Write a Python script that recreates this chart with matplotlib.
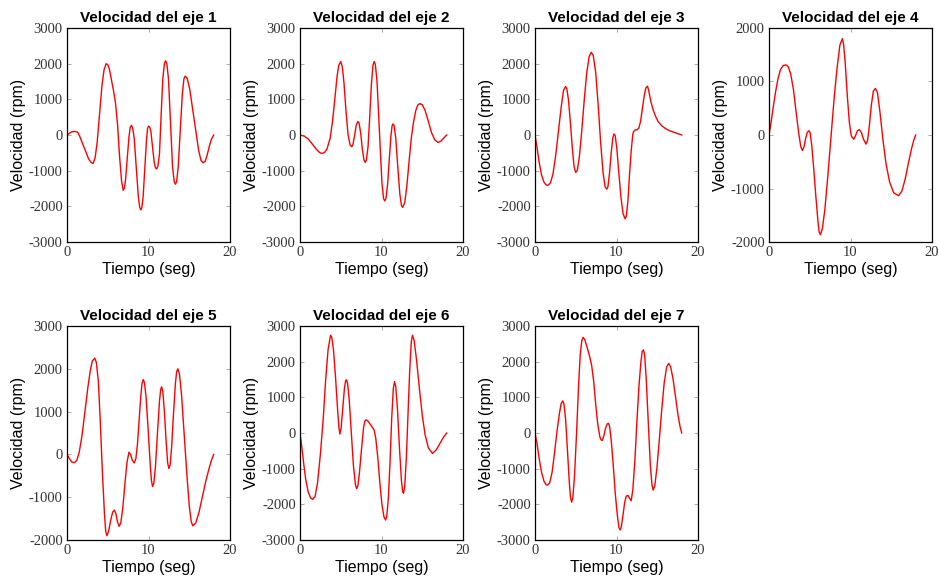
import matplotlib
matplotlib.use("Agg")
import matplotlib.pyplot as plt
import numpy as np

# velocidad de cada eje (t en seg, v en rpm)
t1 = [0, 0.3, 0.6, 1.0, 1.3, 1.55, 2.1, 2.65, 2.95, 3.2, 3.45, 3.7, 4.0, 4.3, 4.55, 4.8,
      5.0, 5.2, 5.45, 5.7, 5.95, 6.2, 6.45, 6.7, 6.9, 7.05, 7.2, 7.4, 7.6, 7.75, 7.9,
      8.05, 8.25, 8.5, 8.75, 8.92, 9.07, 9.2, 9.35, 9.55, 9.75, 9.88, 10.0,
      10.15, 10.3, 10.5, 10.7, 10.85, 11.0, 11.15, 11.35, 11.55, 11.75, 11.95, 12.1,
      12.25, 12.45, 12.7, 12.95, 13.15, 13.3, 13.45, 13.65, 13.9, 14.15, 14.35, 14.5,
      14.75, 15.05, 15.6, 16.15, 16.45, 16.7, 16.95, 17.2, 17.45, 17.7, 18]
v1 = [0, 50, 90, 100, 80, -31, -350, -669, -770, -800, -640, -210, 600, 1410, 1830, 2000,
      1970, 1850, 1550, 1250, 900, 300, -600, -1300, -1550, -1490, -1220, -640, -60, 210, 270,
      200, -90, -915, -1720, -2030, -2100, -2020, -1700, -920, -150, 180, 250,
      220, 90, -350, -760, -920, -950, -880, -520, 560, 1560, 2000, 2080,
      2000, 1580, 350, -900, -1300, -1380, -1310, -880, 135, 1150, 1580, 1650,
      1590, 1300, 435, -430, -720, -780, -740, -560, -330, -130, 0]

t2 = [0, 0.5, 1.0, 1.5, 2.0, 2.4, 2.7, 3.0, 3.3, 3.7, 4.0, 4.3, 4.55, 4.75, 5.0,
      5.2, 5.4, 5.65, 5.9, 6.15, 6.35, 6.5, 6.7, 6.9, 7.1, 7.25, 7.45, 7.65, 7.85, 8.0,
      8.15, 8.35, 8.55, 8.75, 8.95, 9.1, 9.25, 9.45, 9.75, 10.05, 10.25, 10.4,
      10.55, 10.75, 10.95, 11.15, 11.3, 11.4, 11.55, 11.75, 12.0, 12.25, 12.45, 12.6,
      12.85, 13.1, 13.4, 13.65, 13.9, 14.2, 14.45, 14.7, 15.0, 15.35, 15.75, 16.15, 16.55, 16.95,
      17.3, 17.65, 18]
v2 = [0, -30, -110, -250, -400, -490, -520, -490, -400, -90, 400, 1070, 1650, 1950, 2060,
      1900, 1450, 650, 0, -280, -330, -260, -20, 280, 380, 330, 50, -400, -700, -770,
      -700, -320, 480, 1380, 1950, 2060, 1970, 1500, 80, -1330, -1780, -1850,
      -1780, -1380, -700, -40, 260, 310, 260, -90, -900, -1650, -1980, -2030,
      -1900, -1450, -700, -100, 320, 680, 840, 880, 850, 690, 380, 60, -140, -210,
      -170, -80, 0]

t3 = [0, 0.25, 0.5, 0.8, 1.1, 1.35, 1.6, 1.9, 2.2, 2.55, 2.9, 3.2, 3.5, 3.75,
      3.9, 4.1, 4.35, 4.6, 4.8, 5.0, 5.2, 5.45, 5.75, 6.05, 6.35, 6.65, 6.9,
      7.15, 7.45, 7.75, 8.05, 8.35, 8.6, 8.8, 8.95, 9.15, 9.35, 9.55, 9.7,
      9.85, 10.05, 10.3, 10.55, 10.8, 11.05, 11.2, 11.4, 11.6, 11.8, 12.0, 12.1,
      12.3, 12.55, 12.75, 12.95, 13.15, 13.4, 13.6, 13.8, 13.95, 14.2, 14.5, 14.8,
      15.1, 15.5, 16.0, 16.5, 17.0, 17.5, 18]
v3 = [0, -350, -750, -1120, -1320, -1400, -1410, -1340, -1100, -560, 150, 760, 1250, 1360,
      1300, 1000, 330, -420, -900, -1050, -980, -600, 150, 1000, 1750, 2200, 2320,
      2230, 1750, 850, -200, -1050, -1450, -1520, -1450, -1050, -500, -80, 30,
      -30, -400, -1100, -1750, -2200, -2350, -2280, -1850, -1100, -450, 20, 100,
      140, 150, 200, 380, 700, 1100, 1320, 1370, 1250, 950, 700, 520,
      380, 270, 180, 120, 80, 40, 0]

t4 = [0, 0.25, 0.5, 0.8, 1.1, 1.4, 1.75, 2.07, 2.35, 2.65, 3.0, 3.35, 3.65, 3.9, 4.1,
      4.3, 4.5, 4.7, 4.9, 5.05, 5.25, 5.5, 5.75, 6.0, 6.15, 6.3,
      6.55, 6.85, 7.2, 7.6, 8.0, 8.35, 8.7, 9.0, 9.15, 9.35, 9.6, 9.85, 10.1, 10.4,
      10.6, 10.85, 11.1, 11.35, 11.6, 11.9, 12.1, 12.3, 12.55, 12.8, 13.05,
      13.3, 13.6, 13.95, 14.35, 14.8, 15.3, 15.9, 16.3, 16.7, 17.1, 17.5, 17.8, 18]
v4 = [0, 230, 500, 800, 1050, 1220, 1300, 1310, 1280, 1150, 850, 400, 30, -220, -290,
      -220, -60, 50, 80, 40, -200, -650, -1150, -1600, -1810, -1865,
      -1750, -1400, -800, -50, 700, 1250, 1680, 1800, 1700, 1350, 750, 250, -20, -80,
      -20, 80, 100, 40, -80, -170, -100, 150, 550, 820, 870,
      800, 450, -50, -530, -880, -1080, -1135, -1050, -830, -530, -250, -80, 0]

t5 = [0, 0.3, 0.6, 0.9, 1.2, 1.5, 1.85, 2.2, 2.55, 2.85, 3.1, 3.4,
      3.6, 3.85, 4.1, 4.35, 4.6, 4.75, 4.9, 5.1, 5.35, 5.6, 5.8, 6.0, 6.2, 6.4,
      6.6, 6.85, 7.1, 7.35, 7.6, 7.8, 8.0, 8.25, 8.45, 8.65, 8.85, 9.05, 9.2, 9.35,
      9.5, 9.7, 9.95, 10.2, 10.35, 10.5, 10.65, 10.85, 11.1, 11.35, 11.5, 11.6,
      11.75, 11.95, 12.15, 12.35, 12.5, 12.65, 12.85, 13.05, 13.3, 13.45, 13.6,
      13.8, 14.05, 14.35, 14.7, 15.0, 15.25, 15.45, 15.8, 16.2, 16.6, 17.0, 17.4, 17.7, 18]
v5 = [0, -100, -180, -195, -140, 50, 450, 1000, 1550, 1950, 2180, 2250,
      2150, 1700, 700, -450, -1400, -1800, -1900, -1800, -1550, -1350, -1300, -1380, -1580, -1680,
      -1600, -1250, -700, -200, 50, 0, -130, -200, -100, 250, 800, 1350, 1650, 1750,
      1680, 1350, 600, -200, -600, -750, -680, -300, 500, 1250, 1520, 1580,
      1480, 1000, 350, -200, -330, -250, 200, 900, 1650, 1930, 2000,
      1880, 1400, 550, -450, -1200, -1580, -1670, -1600, -1350, -1000, -650, -350, -150, 0]

t6 = [0, 0.2, 0.45, 0.7, 1.0, 1.3, 1.55, 1.85, 2.15, 2.5, 2.85, 3.15, 3.45, 3.75,
      3.9, 4.1, 4.35, 4.6, 4.78, 4.9, 5.05, 5.25, 5.45, 5.6, 5.7,
      5.85, 6.05, 6.3, 6.55, 6.8, 6.95, 7.1, 7.3, 7.55, 7.8, 7.95, 8.1,
      8.35, 8.6, 8.85, 9.1, 9.3, 9.55, 9.8, 10.05, 10.3, 10.5,
      10.65, 10.85, 11.05, 11.25, 11.45, 11.6, 11.75, 11.95, 12.2, 12.45, 12.6, 12.7,
      12.85, 13.05, 13.25, 13.45, 13.65, 13.8, 14.0, 14.3, 14.65, 15.0, 15.35, 15.75, 16.25,
      16.7, 17.15, 17.6, 18]
v6 = [0, -350, -850, -1300, -1650, -1820, -1860, -1780, -1400, -600, 400, 1500, 2350, 2740,
      2680, 2350, 1600, 700, 150, -30, 150, 700, 1250, 1470, 1490,
      1380, 900, 0, -900, -1450, -1560, -1480, -1100, -450, 150, 330, 370,
      330, 250, 170, 80, -150, -700, -1400, -2000, -2350, -2440,
      -2330, -1800, -800, 400, 1250, 1440, 1300, 700, -400, -1350, -1650, -1690,
      -1500, -700, 500, 1700, 2550, 2740, 2600, 2050, 1250, 500, -50, -420, -570,
      -480, -300, -120, 0]

t7 = [0, 0.25, 0.5, 0.8, 1.1, 1.35, 1.55, 1.8, 2.1, 2.4, 2.7, 3.0, 3.2, 3.4,
      3.55, 3.75, 4.0, 4.2, 4.35, 4.5, 4.65, 4.85, 5.1, 5.35, 5.55, 5.75, 5.9,
      6.1, 6.4, 6.7, 6.95, 7.2, 7.45, 7.7, 7.95, 8.1, 8.25, 8.45, 8.65, 8.85, 9.0,
      9.15, 9.35, 9.6, 9.85, 10.1, 10.3, 10.45, 10.6, 10.8, 11.0, 11.2, 11.4, 11.6, 11.8,
      12.0, 12.25, 12.5, 12.75, 13.0, 13.15, 13.3, 13.45, 13.65, 13.9, 14.15, 14.35, 14.5,
      14.7, 14.95, 15.25, 15.55, 15.85, 16.15, 16.4, 16.65, 16.95, 17.25, 17.55, 17.8, 18]
v7 = [0, -300, -700, -1100, -1350, -1450, -1460, -1400, -1100, -550, 50, 550, 820, 900,
      820, 400, -550, -1350, -1800, -1940, -1800, -1200, 0, 1350, 2200, 2600, 2680,
      2620, 2400, 2150, 1900, 1450, 800, 250, -100, -190, -210, -80, 130, 250, 270,
      200, -200, -900, -1700, -2300, -2650, -2720, -2620, -2300, -1950, -1770, -1750, -1830, -1900,
      -1600, -800, 300, 1300, 2000, 2280, 2330, 2200, 1500, 300, -900, -1450, -1600,
      -1480, -1000, -200, 650, 1400, 1850, 1950, 1850, 1500, 1000, 500, 180, 0]

series = [(t1, v1), (t2, v2), (t3, v3), (t4, v4), (t5, v5), (t6, v6), (t7, v7)]
ylims = [(-3000, 3000), (-3000, 3000), (-3000, 3000), (-2000, 2000),
         (-2000, 3000), (-3000, 3000), (-3000, 3000)]

plt.rcParams['axes.unicode_minus'] = False

W, H = 939, 582
fig = plt.figure(figsize=(W / 100, H / 100), dpi=100)

# posiciones de los ejes en pixeles
lefts = [67, 300, 535, 769]
tops = [28, 326]
aw, ah = 163, 214

for i, (t, v) in enumerate(series):
    row, col = divmod(i, 4)
    ax = fig.add_axes([lefts[col] / W, 1 - (tops[row] + ah) / H, aw / W, ah / H])
    ax.plot(t, v, color='red', linewidth=1.0)
    lo, hi = ylims[i]
    ax.set_xlim(0, 20)
    ax.set_ylim(lo, hi)
    ax.set_xticks([0, 10, 20])
    ax.set_yticks(np.arange(lo, hi + 1, 1000))
    ax.tick_params(direction='in', top=True, right=True, length=3, width=0.5,
                   color='#888888', labelsize=10.5, pad=3)
    for lab in ax.get_xticklabels() + ax.get_yticklabels():
        lab.set_family('Liberation Serif')
        lab.set_color('#333333')
    for s in ax.spines.values():
        s.set_linewidth(0.9)
    ax.set_title("Velocidad del eje %d" % (i + 1), fontsize=11, fontweight='bold',
                 family='Liberation Sans', pad=4)
    ax.set_xlabel("Tiempo (seg)", fontsize=11.5, family='Liberation Sans', labelpad=2)
    ax.set_ylabel("Velocidad (rpm)", fontsize=11.5, family='Liberation Sans', labelpad=2)

fig.savefig("out.png", dpi=100)
